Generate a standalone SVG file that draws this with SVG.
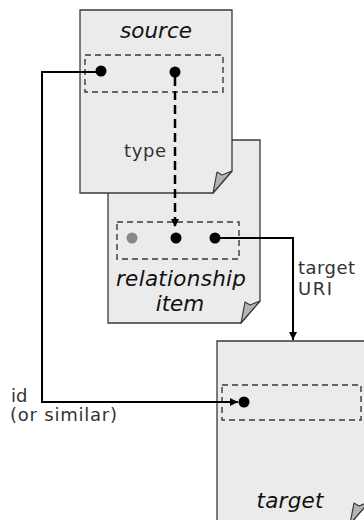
<svg xmlns="http://www.w3.org/2000/svg" width="364" height="520" viewBox="0 0 364 520">
<style>
.page{fill:#ebebeb;stroke:#3a3a3a;stroke-width:1.3}
.flap{fill:#b4b4b4;stroke:#3a3a3a;stroke-width:1.2;stroke-linejoin:round}
.box{fill:none;stroke:#3a3a3a;stroke-width:1.4;stroke-dasharray:6 4}
.title{font-family:"DejaVu Sans",Verdana,sans-serif;font-style:italic;font-size:21.5px;fill:#111;text-anchor:middle}
.lbl{font-family:"DejaVu Sans",Verdana,sans-serif;font-size:18px;fill:#333}
.dot{fill:#000}
.wire{fill:none;stroke:#000;stroke-width:2}
.dash{fill:none;stroke:#000;stroke-width:2.5;stroke-dasharray:9 5}
</style>
<defs>
<marker id="ah" viewBox="0 0 10 10" refX="10" refY="5" markerWidth="8" markerHeight="8" markerUnits="userSpaceOnUse" orient="auto">
<path d="M0,0 L10,5 L0,10 Z" fill="#000"/>
</marker>
</defs>
<rect width="364" height="520" fill="#fff"/>
<g id="relationship-item">
<path class="page" d="M108,140 H260 V301 L241,323 H108 Z"/>
<path class="flap" d="M241,323 L245,302 L250,305 L260,301 Z"/>
<rect class="box" x="117" y="222" width="122" height="37"/>
<circle cx="132" cy="238" r="5.5" fill="#888"/>
<circle class="dot" cx="176" cy="238" r="5.5"/>
<circle class="dot" cx="215" cy="238" r="5.5"/>
<text class="title" x="181" y="286" textLength="130">relationship</text>
<text class="title" x="180" y="311">item</text>
</g>
<g id="source">
<path class="page" d="M80,10 H232 V171 L213,193 H80 Z"/>
<path class="flap" d="M213,193 L217,172 L222,175 L232,171 Z"/>
<rect class="box" x="85" y="55" width="138" height="37"/>
<circle class="dot" cx="101" cy="71" r="5.5"/>
<circle class="dot" cx="175" cy="72" r="5.5"/>
<text class="title" x="156" y="38">source</text>
</g>
<g id="target">
<path class="page" d="M217,341 H369 V502 L350,524 H217 Z"/>
<path class="flap" d="M350,524 L354,503 L359,506 L369,502 Z"/>
<rect class="box" x="222" y="385" width="139" height="35"/>
<circle class="dot" cx="244" cy="402" r="5.5"/>
<text class="title" x="290" y="508" textLength="67">target</text>
</g>
<g id="connectors">
<path class="dash" d="M175,77 V227" marker-end="url(#ah)"/>
<path class="wire" d="M101,72 H42 V402 H238" marker-end="url(#ah)"/>
<path class="wire" d="M215,238 H293 V340" marker-end="url(#ah)"/>
</g>
<g id="labels">
<text class="lbl" x="124" y="157" textLength="42">type</text>
<text class="lbl" x="298" y="274" textLength="57">target</text>
<text class="lbl" x="298" y="295" textLength="34">URI</text>
<text class="lbl" x="11" y="402">id</text>
<text class="lbl" x="10" y="421" textLength="107">(or similar)</text>
</g>
</svg>
